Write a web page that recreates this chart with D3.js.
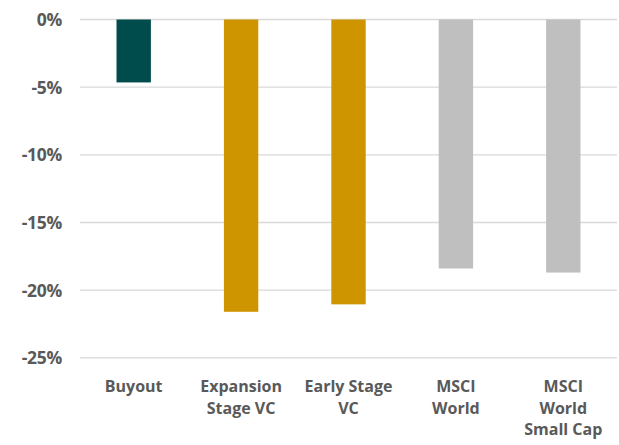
<!DOCTYPE html>
<html><head><meta charset="utf-8">
<script src="https://cdn.jsdelivr.net/npm/d3@7"></script>
<style>body{margin:0;background:#fff}svg{display:block}</style>
</head><body>
<script>
const categories = [["Buyout"],["Expansion","Stage VC"],["Early Stage","VC"],["MSCI","World"],["MSCI","World","Small Cap"]];
const values = [-4.65, -21.6, -21.05, -18.4, -18.7];
const colors = ["#004b4b","#cf9500","#cf9500","#bfbfbf","#bfbfbf"];
const yTicks = [0,-5,-10,-15,-20,-25];

const W=619,H=445;
const svg=d3.select("body").append("svg").attr("width",W).attr("height",H);
const x=d3.scaleBand().domain(d3.range(values.length)).range([80,617]).paddingInner(0.68).paddingOuter(0.34);
const y=d3.scaleLinear().domain([0,-25]).range([19.5,357.8]);
const font="'Open Sans', Lato, sans-serif";

svg.append("g").selectAll("line").data(yTicks).join("line")
 .attr("x1",80).attr("x2",617).attr("y1",d=>y(d)).attr("y2",d=>y(d))
 .attr("stroke","#d9d9d9").attr("stroke-width",1.3);

svg.append("g").selectAll("text").data(yTicks).join("text")
 .attr("x",62).attr("y",d=>y(d)+6.5).attr("text-anchor","end")
 .attr("font-family",font).attr("font-weight","bold").attr("font-size",17.5).attr("fill","#595959")
 .attr("letter-spacing",-0.3)
 .text(d=>d+"%");

svg.append("g").selectAll("rect").data(values).join("rect")
 .attr("x",(d,i)=>x(i)).attr("width",x.bandwidth())
 .attr("y",d=>y(0)).attr("height",d=>y(d)-y(0))
 .attr("fill",(d,i)=>colors[i]);

const lab=svg.append("g").selectAll("text").data(categories).join("text")
 .attr("text-anchor","middle").attr("font-family",font).attr("font-weight","bold")
 .attr("font-size",16).attr("fill","#595959");
lab.each(function(lines,i){
  const t=d3.select(this);
  lines.forEach((l,j)=>t.append("tspan").attr("x",x(i)+x.bandwidth()/2).attr("y",392+j*21.5).text(l));
});
</script>
</body></html>
